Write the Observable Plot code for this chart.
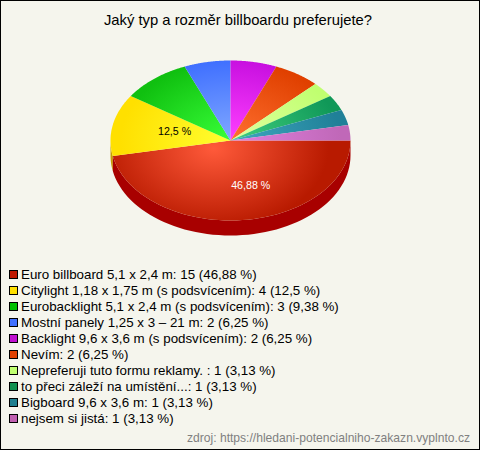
<!DOCTYPE html>
<html><head><meta charset="utf-8">
<script src="https://cdn.jsdelivr.net/npm/d3@7"></script>
<script src="https://cdn.jsdelivr.net/npm/@observablehq/plot@0.6"></script>
<style>
html,body{margin:0;padding:0;background:#f5f5ed}
#wrap{position:relative;width:480px;height:450px;overflow:hidden;font-family:"Liberation Sans",Arial,sans-serif;color:#000}
#frame{position:absolute;left:0;top:0;width:478px;height:448px;border:1px solid #000;pointer-events:none}
#title{position:absolute;left:0;width:476px;top:12px;text-align:center;font-size:14.8px;line-height:16px}
#legend{position:absolute;left:9px;top:267px;font-size:13.33px;line-height:16px}
#legend div{height:16px;white-space:nowrap}
#legend i{display:inline-block;width:7px;height:7px;border:1px solid #000;margin-right:3px;vertical-align:0px}
#source{position:absolute;right:10px;top:431px;font-size:12.1px;line-height:14px;color:#808080}
svg{position:absolute;left:0;top:0}
</style></head><body><div id="wrap"></div>
<script>
const titleText = "Jaký typ a rozměr billboardu preferujete?";
const sourceText = "zdroj: https://hledani-potencialniho-zakazn.vyplnto.cz";
const categories = ["Euro billboard 5,1 x 2,4 m","Citylight 1,18 x 1,75 m (s podsvícením)","Eurobacklight 5,1 x 2,4 m (s podsvícením)","Mostní panely 1,25 x 3 – 21 m","Backlight 9,6 x 3,6 m (s podsvícením)","Nevím","Nepreferuji tuto formu reklamy. ","to přeci záleží na umístění...","Bigboard 9,6 x 3,6 m","nejsem si jistá"];
const counts = [15,4,3,2,2,2,1,1,1,1];
const percents = ["46,88","12,5","9,38","6,25","6,25","6,25","3,13","3,13","3,13","3,13"];
const labelled = [0,1];
const swatch = ["#c01800","#ffe000","#00c000","#4070ff","#c010d0","#e04000","#c0ff70","#109050","#208090","#c060b0"];
const inner  = ["#ff5a3a","#ffff30","#38ff38","#80a8ff","#ff40ff","#ff7030","#e0ffa0","#40d080","#40a8c0","#e080e0"];
const outer  = ["#b81a00","#ffe000","#10c010","#4070ff","#c810e0","#e04000","#c0ff70","#109858","#208098","#c068b8"];
const sideColor = ["#a80000","#c8a000"];

const total = d3.sum(counts);
let acc = 0;
const slices = counts.map((v,i)=>{const a0=acc/total*2*Math.PI; acc+=v; return {i,a0,a1:acc/total*2*Math.PI};});
const arcPts = (a0,a1)=>d3.range(0,61).map(k=>{const a=a0+(a1-a0)*k/60;return {x:Math.cos(a),y:Math.sin(a)};});
const depth = 0.1875;
const wedge = s=>[{x:0,y:0},...arcPts(s.a0,s.a1)];
const side = (a0,a1)=>{const p=arcPts(a0,a1);return [...p,...p.slice().reverse().map(d=>({x:d.x,y:d.y+depth}))];};
const labels = labelled.map(i=>{const s=slices[i],m=(s.a0+s.a1)/2;return {x:.565*Math.cos(m),y:.565*Math.sin(m),t:percents[i]+" %",c:i===0?"#fff":"#000"};});

const defs = ()=>{
  const NS="http://www.w3.org/2000/svg";
  const d=document.createElementNS(NS,"defs");
  slices.forEach(s=>{
    const g=document.createElementNS(NS,"radialGradient");
    g.setAttribute("id","g"+s.i);g.setAttribute("gradientUnits","userSpaceOnUse");
    const rx=s.i===0?115:110, ry=80;
    const cx=s.i===0?213:230, cy=s.i===0?148:140;
    g.setAttribute("cx",0);g.setAttribute("cy",0);g.setAttribute("r",1);
    g.setAttribute("gradientTransform",`translate(${cx},${cy}) scale(${rx},${ry})`);
    [[0,inner[s.i]],[1,outer[s.i]]].forEach(([o,c])=>{const st=document.createElementNS(NS,"stop");st.setAttribute("offset",o);st.setAttribute("stop-color",c);g.appendChild(st);});
    d.appendChild(g);
  });
  return d;
};

const chart = Plot.plot({
  width:480,height:450,margin:0,
  style:{background:"transparent",overflow:"visible"},
  x:{domain:[-1,1],range:[110,350],axis:null},
  y:{domain:[-1,1],range:[60,220],axis:null},
  marks:[
    defs,
    Plot.line(side(slices[1].a0,Math.PI),{x:"x",y:"y",fill:sideColor[1],stroke:"none",curve:"linear"}),
    Plot.line(side(0,slices[0].a1),{x:"x",y:"y",fill:sideColor[0],stroke:"none",curve:"linear"}),
    ...slices.map(s=>Plot.line(wedge(s),{x:"x",y:"y",fill:`url(#g${s.i})`,stroke:"none",curve:"linear"})),
    Plot.text(labels,{x:"x",y:"y",text:"t",fill:"c",textAnchor:"start",dx:-6,fontSize:10.67,fontFamily:"Liberation Sans"})
  ]
});
const wrap=document.getElementById("wrap");
wrap.appendChild(chart);
const mk=(id,t)=>{const e=document.createElement("div");e.id=id;if(t)e.textContent=t;wrap.appendChild(e);return e;};
mk("title",titleText);
const lg=mk("legend");
categories.forEach((c,i)=>{const r=document.createElement("div");const k=document.createElement("i");k.style.background=swatch[i];r.appendChild(k);r.appendChild(document.createTextNode(`${c}: ${counts[i]} (${percents[i]} %)`));lg.appendChild(r);});
mk("source",sourceText);
mk("frame");
</script></body></html>
